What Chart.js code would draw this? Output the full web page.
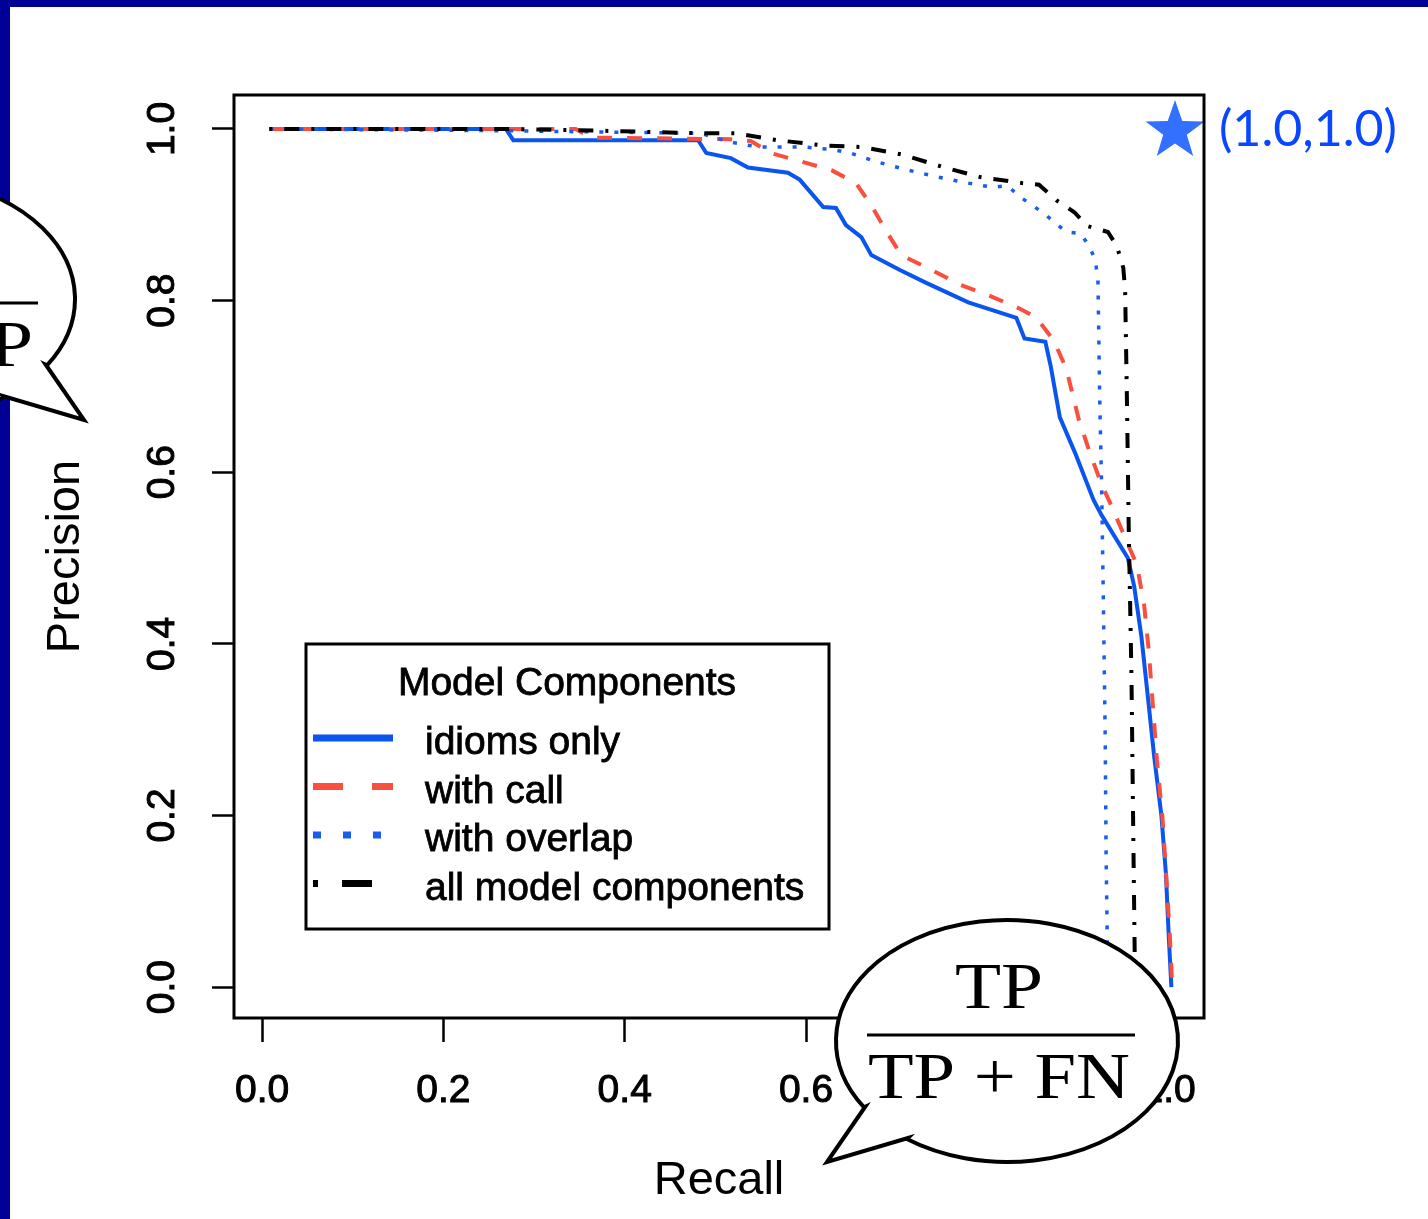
<!DOCTYPE html>
<html>
<head>
<meta charset="utf-8">
<script src="https://cdn.jsdelivr.net/npm/chart.js@4.4.0/dist/chart.umd.min.js"></script>
<style>
  html, body { margin: 0; padding: 0; background: #fff; }
  canvas { display: block; }
</style>
</head>
<body>
<canvas id="prChart" width="1428" height="1219"></canvas>
<script>
// tick values for both axes
const xTicks = [0, 0.2, 0.4, 0.6, 0.8, 1.0];
const yTicks = [0, 0.2, 0.4, 0.6, 0.8, 1.0];

// legend / series names
const legendTitle = 'Model Components';
const seriesNames = ['idioms only', 'with call', 'with overlap', 'all model components'];

// idioms only (solid blue)
const idiomsRecall = [0.008, 0.269, 0.277, 0.481, 0.490, 0.517, 0.536, 0.580, 0.593, 0.619, 0.633, 0.644, 0.661, 0.672, 0.703, 0.732, 0.779, 0.832, 0.841, 0.864, 0.870, 0.880, 0.897, 0.917, 0.926, 0.955, 0.962, 0.970, 0.977, 0.984, 0.992, 0.997, 1.000, 1.003];
const idiomsPrecision = [1.000, 1.000, 0.987, 0.987, 0.972, 0.966, 0.955, 0.949, 0.941, 0.909, 0.908, 0.888, 0.874, 0.853, 0.836, 0.821, 0.798, 0.780, 0.756, 0.752, 0.723, 0.664, 0.622, 0.568, 0.550, 0.500, 0.467, 0.408, 0.339, 0.269, 0.200, 0.132, 0.062, 0.000];

// with call (dashed red)
const callRecall = [0.008, 0.346, 0.363, 0.517, 0.539, 0.561, 0.595, 0.628, 0.655, 0.672, 0.689, 0.705, 0.738, 0.771, 0.804, 0.837, 0.854, 0.873, 0.887, 0.901, 0.914, 0.926, 0.939, 0.953, 0.965, 0.973, 0.978, 0.983, 0.987, 0.993, 0.997, 1.001, 1.004];
const callPrecision = [1.000, 1.000, 0.990, 0.988, 0.986, 0.972, 0.962, 0.952, 0.937, 0.911, 0.880, 0.853, 0.836, 0.818, 0.805, 0.790, 0.780, 0.754, 0.721, 0.661, 0.620, 0.586, 0.556, 0.521, 0.492, 0.445, 0.393, 0.323, 0.265, 0.200, 0.136, 0.066, 0.000];

// with overlap (dotted blue)
const overlapRecall = [0.008, 0.264, 0.484, 0.515, 0.547, 0.598, 0.629, 0.649, 0.677, 0.709, 0.741, 0.773, 0.806, 0.822, 0.836, 0.862, 0.887, 0.903, 0.912, 0.919, 0.922, 0.924, 0.926, 0.928, 0.930, 0.931, 0.933];
const overlapPrecision = [1.000, 0.998, 0.995, 0.985, 0.979, 0.979, 0.976, 0.972, 0.962, 0.953, 0.945, 0.938, 0.932, 0.934, 0.921, 0.902, 0.880, 0.878, 0.864, 0.848, 0.824, 0.684, 0.587, 0.450, 0.293, 0.154, 0.000];

// all model components (dot-dash black)
const allRecall = [0.008, 0.264, 0.374, 0.481, 0.522, 0.568, 0.617, 0.661, 0.707, 0.750, 0.792, 0.838, 0.857, 0.876, 0.896, 0.910, 0.933, 0.942, 0.946, 0.950, 0.952, 0.954, 0.956, 0.959, 0.961, 0.963];
const allPrecision = [1.000, 1.000, 0.998, 0.995, 0.995, 0.987, 0.981, 0.979, 0.970, 0.956, 0.944, 0.937, 0.935, 0.917, 0.903, 0.887, 0.880, 0.865, 0.853, 0.838, 0.812, 0.684, 0.533, 0.361, 0.177, 0.000];

// perfect classifier point (star), as placed in the picture
const idealRecall = [1.007];
const idealPrecision = [1.0];
const idealLabel = '(1.0,1.0)';

const NAVY = '#000096';
const SANS = '"Liberation Sans", Arial, Helvetica, sans-serif';
const SERIF = '"Liberation Serif", "Times New Roman", serif';

function pts(xs, ys) {
    return xs.map((x, i) => ({ x: x, y: ys[i] }));
}

// star image for the (1,1) point
function makeStar(r, color) {
    const c = document.createElement('canvas');
    c.width = c.height = r * 2 + 4;
    const g = c.getContext('2d');
    const cx = c.width / 2, cy = c.height / 2 + 2;
    g.beginPath();
    for (let k = 0; k < 10; k++) {
        const rad = k % 2 === 0 ? r : r * 0.4;
        const a = -Math.PI / 2 + k * Math.PI / 5;
        const px = cx + rad * Math.cos(a), py = cy + rad * Math.sin(a);
        if (k === 0) g.moveTo(px, py); else g.lineTo(px, py);
    }
    g.closePath();
    g.fillStyle = color;
    g.fill();
    return c;
}

// text squeezed/stretched to a given width
function fitText(ctx, text, cx, baseline, width) {
    const w = ctx.measureText(text).width;
    ctx.save();
    ctx.translate(cx, baseline);
    ctx.scale(width / w, 1);
    ctx.textAlign = 'left';
    ctx.fillText(text, -w / 2, 0);
    ctx.restore();
}

// speech bubble with a fraction inside
function drawBubble(ctx, cx, cy, flip, num, den, tdx, tdy) {
    const rx = 171, ry = 121, s = flip ? -1 : 1;
    const ta = Math.atan2(66 / ry, -142 * s / rx);
    const tb = Math.atan2(97 / ry, -99 * s / rx);
    ctx.save();
    ctx.beginPath();
    ctx.moveTo(cx - 142 * s, cy + 66);
    ctx.lineTo(cx - 180 * s, cy + 121);
    ctx.lineTo(cx - 99 * s, cy + 97);
    ctx.ellipse(cx, cy, rx, ry, 0, tb, ta, !flip);
    ctx.closePath();
    ctx.fillStyle = '#fff';
    ctx.fill();
    ctx.lineWidth = 4;
    ctx.strokeStyle = '#000';
    ctx.stroke();

    ctx.fillStyle = '#000';
    ctx.font = '66px ' + SERIF;
    fitText(ctx, num, cx + tdx, cy - 33 + tdy, 88);
    fitText(ctx, den, cx + tdx, cy + 57 + tdy, 262);
    ctx.beginPath();
    ctx.lineWidth = 3;
    ctx.moveTo(cx + tdx - 132, cy - 6 + tdy);
    ctx.lineTo(cx + tdx + 136, cy - 6 + tdy);
    ctx.stroke();
    ctx.restore();
}

const decorPlugin = {
    id: 'decor',
    beforeDraw(chart) {
        const ctx = chart.ctx;
        ctx.save();
        ctx.fillStyle = '#fff';
        ctx.fillRect(0, 0, chart.width, chart.height);
        ctx.fillStyle = NAVY;
        ctx.fillRect(0, 0, chart.width, 7);
        ctx.fillRect(0, 0, 10, chart.height);
        ctx.restore();
    },
    afterDatasetsDraw(chart) {
        const ctx = chart.ctx;
        const a = chart.chartArea;
        ctx.save();
        // plot box
        ctx.lineWidth = 3;
        ctx.strokeStyle = '#000';
        ctx.strokeRect(a.left, a.top, a.right - a.left, a.bottom - a.top);

        // legend
        ctx.fillStyle = '#fff';
        ctx.fillRect(306, 644, 523, 285);
        ctx.strokeRect(306, 644, 523, 285);
        ctx.fillStyle = '#000';
        ctx.font = '39px ' + SANS;
        ctx.textAlign = 'center';
        ctx.textBaseline = 'alphabetic';
        ctx.lineWidth = 0.8;
        ctx.fillText(legendTitle, 567, 695);
        ctx.strokeText(legendTitle, 567, 695);
        ctx.textAlign = 'left';
        chart.data.datasets.filter(d => d.legendDash).forEach((ds, i) => {
            const y = 738 + i * 48.5;
            ctx.beginPath();
            ctx.setLineDash(ds.legendDash);
            ctx.lineWidth = 7;
            ctx.lineCap = 'butt';
            ctx.strokeStyle = ds.borderColor;
            ctx.moveTo(313, y);
            ctx.lineTo(393, y);
            ctx.stroke();
            ctx.setLineDash([]);
            ctx.lineWidth = 0.8;
            ctx.strokeStyle = '#000';
            ctx.fillText(ds.label, 425, y + 16);
            ctx.strokeText(ds.label, 425, y + 16);
        });
        ctx.restore();
    },
    afterDraw(chart) {
        const ctx = chart.ctx;
        const xs = chart.scales.x, ys = chart.scales.y;
        // label next to the star
        ctx.save();
        ctx.fillStyle = '#0a46ff';
        ctx.font = '50px Lato, "Open Sans", sans-serif';
        ctx.textBaseline = 'alphabetic';
        fitText(ctx, idealLabel, xs.getPixelForValue(idealRecall[0]) + 133, ys.getPixelForValue(idealPrecision[0]) + 17, 178);
        ctx.restore();

        drawBubble(ctx, 1007, 1041, false, 'TP', 'TP + FN', -8, 0);
        drawBubble(ctx, -96, 299, true, 'TP', 'TP + FP', -2, 10);
    }
};

const ctx = document.getElementById('prChart').getContext('2d');
window.prChart = new Chart(ctx, {
    type: 'scatter',
    data: {
        datasets: [
            {
                label: seriesNames[0],
                data: pts(idiomsRecall, idiomsPrecision),
                showLine: true,
                borderColor: '#0a55ee',
                borderWidth: 4,
                pointRadius: 0,
                legendDash: [],
                order: 4
            },
            {
                label: seriesNames[1],
                data: pts(callRecall, callPrecision),
                showLine: true,
                borderColor: '#fa4f3e',
                borderWidth: 4,
                borderDash: [15, 15],
                pointRadius: 0,
                legendDash: [30, 29],
                order: 3
            },
            {
                label: seriesNames[2],
                data: pts(overlapRecall, overlapPrecision),
                showLine: true,
                borderColor: '#1a5cf0',
                borderWidth: 3.5,
                borderDash: [4, 11],
                pointRadius: 0,
                legendDash: [8, 22],
                order: 2
            },
            {
                label: seriesNames[3],
                data: pts(allRecall, allPrecision),
                showLine: true,
                borderColor: '#000000',
                borderWidth: 4,
                borderDash: [3, 12, 15, 12],
                pointRadius: 0,
                legendDash: [5, 24, 30, 24],
                order: 1
            },
            {
                label: 'ideal',
                data: pts(idealRecall, idealPrecision),
                pointStyle: makeStar(31, '#3370ff'),
                pointRadius: 31,
                clip: false,
                order: 0
            }
        ]
    },
    options: {
        responsive: false,
        animation: false,
        events: [],
        layout: { padding: { top: 95, right: 224, left: 0, bottom: 0 } },
        plugins: {
            legend: { display: false },
            tooltip: { enabled: false }
        },
        scales: {
            x: {
                type: 'linear',
                min: -0.031,
                max: 1.039,
                afterBuildTicks: s => { s.ticks = xTicks.map(v => ({ value: v })); },
                afterFit: s => { s.height = 201; },
                border: { display: false },
                grid: { drawOnChartArea: false, drawTicks: true, tickLength: 24, tickColor: '#000', tickWidth: 2.5 },
                ticks: {
                    autoSkip: false,
                    maxRotation: 0,
                    padding: 26,
                    color: '#000',
                    textStrokeColor: '#000',
                    textStrokeWidth: 1,
                    font: { family: SANS, size: 39 },
                    callback: v => v.toFixed(1)
                },
                title: {
                    display: true,
                    text: 'Recall',
                    color: '#000',
                    font: { family: SANS, size: 47 },
                    padding: { top: 0, bottom: 10 }
                }
            },
            y: {
                type: 'linear',
                min: -0.036,
                max: 1.0396,
                afterBuildTicks: s => { s.ticks = yTicks.map(v => ({ value: v })); },
                afterFit: s => { s.width = 234; },
                border: { display: false },
                grid: { drawOnChartArea: false, drawTicks: true, tickLength: 22, tickColor: '#000', tickWidth: 2.5 },
                ticks: {
                    autoSkip: false,
                    minRotation: 90,
                    maxRotation: 90,
                    crossAlign: 'center',
                    padding: 22,
                    color: '#000',
                    textStrokeColor: '#000',
                    textStrokeWidth: 1,
                    font: { family: SANS, size: 39 },
                    callback: v => v.toFixed(1)
                },
                title: {
                    display: true,
                    text: 'Precision',
                    color: '#000',
                    font: { family: SANS, size: 47 },
                    padding: { top: 38, bottom: 0 }
                }
            }
        }
    },
    plugins: [decorPlugin]
});
</script>
</body>
</html>
